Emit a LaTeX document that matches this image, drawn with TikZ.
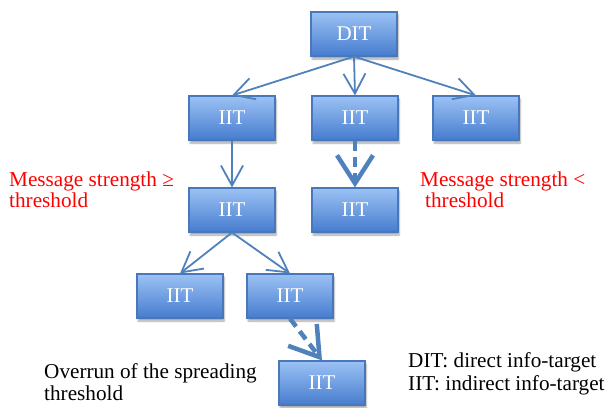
\documentclass[tikz,border=0pt]{standalone}
\usepackage{fontspec}
\setmainfont{Liberation Serif}
\usetikzlibrary{arrows.meta,shadows,shadows.blur}
\definecolor{boxtop}{RGB}{156,194,245}
\definecolor{boxbot}{RGB}{70,124,206}
\definecolor{boxedge}{RGB}{72,120,186}
\definecolor{linkblue}{RGB}{79,129,189}
\definecolor{warnred}{RGB}{255,0,0}
\tikzset{
  target/.style={rectangle, minimum width=86pt, minimum height=44pt, inner sep=0pt,
    top color=boxtop, bottom color=boxbot, draw=boxedge, line width=1.1pt,
    text=white, font=\fontsize{21}{23}\selectfont,
    blur shadow={shadow xshift=1pt, shadow yshift=-3pt, shadow blur steps=6, shadow opacity=35}},
  link/.style={draw=linkblue, line width=1.8pt,
    -{Straight Barb[length=20pt, width=22pt, line width=1.8pt]}},
  strong/.style={draw=linkblue, line width=4.5pt, dash pattern=on 10pt off 6pt,
    -{Straight Barb[length=28pt, width=36pt, line width=4.5pt]}},
  note/.style={anchor=base west, inner sep=0pt, font=\fontsize{21.2}{23}\selectfont},
  warn/.style={note, text=warnred}
}
\begin{document}
\begin{tikzpicture}[x=1pt, y=-1pt]
\useasboundingbox (0,0) rectangle (609,407);

% info-target tree
\node[target] (dit) at (354,34) {DIT};
\node[target] (a1) at (232,118) {IIT};
\node[target] (a2) at (355,118) {IIT};
\node[target] (a3) at (476,118) {IIT};
\node[target] (b1) at (232,210) {IIT};
\node[target] (b2) at (355,210) {IIT};
\node[target] (c1) at (180,296) {IIT};
\node[target] (c2) at (290,296) {IIT};
\node[target] (d1) at (322,383) {IIT};

% spreading links
\draw[link] (dit.south) -- (a1.north);
\draw[link] (dit.south) -- (a2.north);
\draw[link] (dit.south) -- (a3.north);
\draw[link] (a1.south) -- (b1.north);
\draw[link] (b1.south) -- (c1.north);
\draw[link] (b1.south) -- (c2.north);
\draw[strong] (a2.south) -- (b2.north);
\draw[strong] (c2.south) -- (d1.north);

% annotations
\node[warn] (geq1) at (9,186) {Message strength ≥};
\node[warn] (geq2) at (9,207) {threshold};
\node[warn] (lt1) at (420,186) {Message strength <};
\node[warn] (lt2) at (425,207) {threshold};
\node[note] (ov1) at (44,378) {Overrun of the spreading};
\node[note] (ov2) at (44,400) {threshold};
\node[note] (lg1) at (408,367) {DIT: direct info-target};
\node[note] (lg2) at (408,390) {IIT: indirect info-target};
\end{tikzpicture}
\end{document}
